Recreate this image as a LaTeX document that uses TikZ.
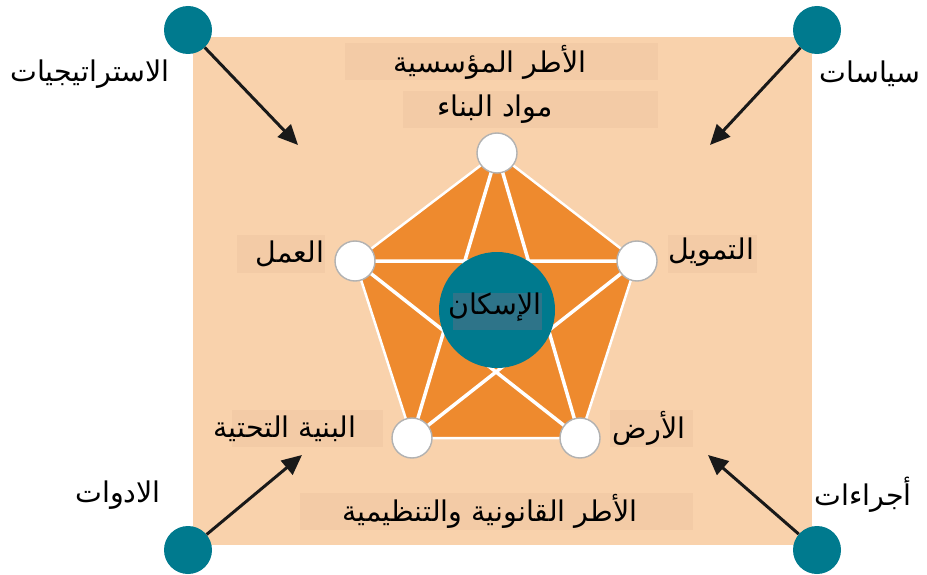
\documentclass[tikz,border=0pt]{standalone}
\usepackage{fontspec}
\usetikzlibrary{arrows.meta}
\newfontfamily\arabicfont[Script=Arabic]{DejaVu Sans}
\TeXXeTstate=1
\definecolor{peach}{HTML}{F9D2AC}
\definecolor{lblbox}{HTML}{F3CBA6}
\definecolor{housorange}{HTML}{EE8A2E}
\definecolor{tealdot}{HTML}{007A8E}
\definecolor{midbox}{HTML}{2E7489}
\tikzset{
  ar/.style={font=\arabicfont\fontsize{28.5}{32}\selectfont, inner sep=0pt},
  cornerdot/.style={circle, fill=tealdot, minimum size=48pt, inner sep=0pt},
  vdot/.style={circle, fill=white, draw=gray!60, line width=1.4pt, minimum size=40pt, inner sep=0pt},
  push/.style={line width=3pt, draw=black!90, -{Triangle[length=20pt,width=18pt]}},
  starline/.style={white, line width=3.5pt},
}

\begin{document}
\begin{tikzpicture}[x=1pt,y=-1pt]
\useasboundingbox (0,0) rectangle (927,575);
\fill[peach] (193,37) rectangle (812,545);
% boxes behind the labels
\fill[lblbox] (345,43) rectangle (658,80);
\fill[lblbox] (403,91) rectangle (658,128);
\fill[lblbox] (237,235) rectangle (325,273);
\fill[lblbox] (668,235) rectangle (757,273);
\fill[lblbox] (232,410) rectangle (383,447);
\fill[lblbox] (610,410) rectangle (693,447);
\fill[lblbox] (300,493) rectangle (693,530);

% pentagon corners
\coordinate (vtop) at (497,153);
\coordinate (vright) at (637,261);
\coordinate (vbr) at (580,438);
\coordinate (vbl) at (412,438);
\coordinate (vleft) at (355,261);
\fill[housorange] (vtop) -- (vright) -- (vbr) -- (vbl) -- (vleft) -- cycle;
\draw[starline, line width=2.5pt] (vtop) -- (vright) -- (vbr) -- (vbl) -- (vleft) -- cycle;
\draw[starline] (vtop) -- (vbl) -- (vright) -- (vleft) -- (vbr) -- cycle;

\node[circle, fill=tealdot, minimum size=116pt, inner sep=0pt] (hub) at (497,310) {};
\fill[midbox] (453,293) rectangle (542,330);
\node[ar] (hubtext) at (495,307) {\beginR الإسكان\endR};

\node[vdot] (top) at (vtop) {};
\node[vdot] (right) at (vright) {};
\node[vdot] (botright) at (vbr) {};
\node[vdot] (botleft) at (vbl) {};
\node[vdot] (left) at (vleft) {};

\node[ar] (inst) at (490,62) {\beginR الأطر المؤسسية\endR};
\node[ar] (build) at (495,109) {\beginR مواد البناء\endR};
\node[ar] (work) at (290,254) {\beginR العمل\endR};
\node[ar] (fund) at (711,252) {\beginR التمويل\endR};
\node[ar] (infra) at (285,429) {\beginR البنية التحتية\endR};
\node[ar] (land) at (649,428) {\beginR الأرض\endR};
\node[ar] (legal) at (490,511) {\beginR الأطر القانونية والتنظيمية\endR};

% corner dots and what they push in
\node[cornerdot] (tl) at (188,30) {};
\node[cornerdot] (tr) at (817,30) {};
\node[cornerdot] (bl) at (188,550) {};
\node[cornerdot] (br) at (817,550) {};
\coordinate (tltip) at (298,145);
\coordinate (trtip) at (710,145);
\coordinate (bltip) at (302,455);
\coordinate (brtip) at (708,455);
\draw[push] (tl) -- (tltip);
\draw[push] (tr) -- (trtip);
\draw[push] (bl) -- (bltip);
\draw[push] (br) -- (brtip);

\node[ar] (strat) at (90,74) {\beginR الاستراتيجيات\endR};
\node[ar] (policy) at (870,74) {\beginR سياسات\endR};
\node[ar] (tools) at (118,495) {\beginR الادوات\endR};
\node[ar] (proc) at (863,495) {\beginR أجراءات\endR};
\end{tikzpicture}
\end{document}
